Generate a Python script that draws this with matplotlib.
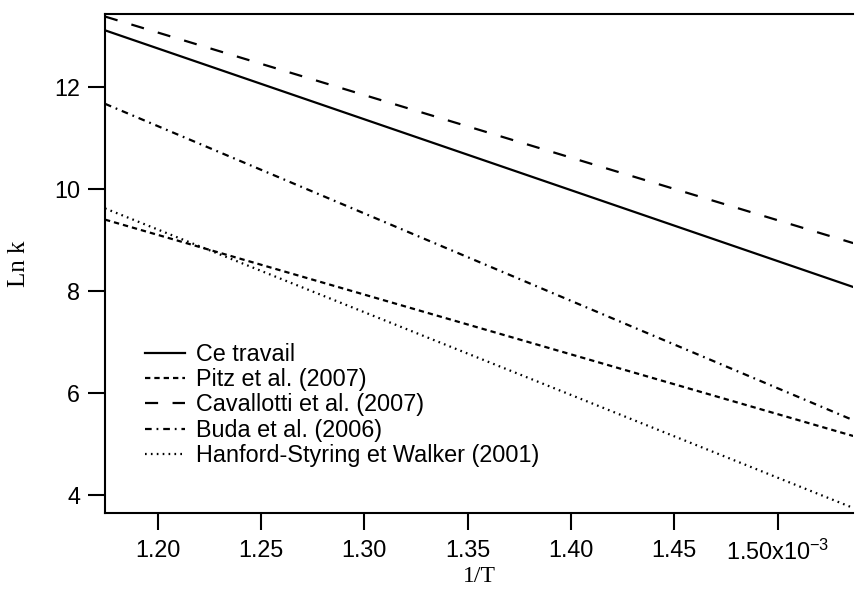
import matplotlib
matplotlib.use("Agg")
import matplotlib.pyplot as plt

plt.rcParams['font.family'] = ['Liberation Sans', 'DejaVu Sans']
plt.rcParams['mathtext.fontset'] = 'custom'
plt.rcParams['mathtext.rm'] = 'Liberation Sans'
plt.rcParams['mathtext.default'] = 'rm'

# 1/T range and Ln k at both ends
inv_t = [1.1745e-3, 1.5365e-3]
ce_travail = [13.11, 8.08]
pitz = [9.40, 5.16]
cavallotti = [13.38, 8.94]
buda = [11.67, 5.47]
hanford = [9.62, 3.75]

labels = ["Ce travail", "Pitz et al. (2007)", "Cavallotti et al. (2007)",
          "Buda et al. (2006)", "Hanford-Styring et Walker (2001)"]

xticks = [1.20e-3, 1.25e-3, 1.30e-3, 1.35e-3, 1.40e-3, 1.45e-3, 1.50e-3]
xticklabels = ["1.20", "1.25", "1.30", "1.35", "1.40", "1.45", "1.50x10$^{-3}$"]
yticks = [4, 6, 8, 10, 12]

fig = plt.figure(figsize=(8.55, 5.9), dpi=100)
ax = fig.add_axes([0.1228, 0.1305, 0.875, 0.8458])

lw = 1.6
ax.plot(inv_t, ce_travail, color="black", lw=lw, ls="-", label=labels[0])
ax.plot(inv_t, pitz, color="black", lw=lw, ls=(0, (2.4, 1.8)), label=labels[1])
ax.plot(inv_t, cavallotti, color="black", lw=lw, ls=(0, (5.9, 6.5)), label=labels[2])
ax.plot(inv_t, buda, color="black", lw=lw, ls=(0, (3.0, 2.2, 0.8, 2.2)), label=labels[3])
ax.plot(inv_t, hanford, color="black", lw=lw, ls=(0, (0.75, 1.9)), label=labels[4])

ax.set_xlim(inv_t[0], inv_t[1])
ax.set_ylim(3.65, 13.43)
ax.set_xticks(xticks)
ax.set_xticklabels(xticklabels)
ax.set_yticks(yticks)

for s in ["left", "top", "bottom"]:
    ax.spines[s].set_linewidth(1.5)
ax.spines["right"].set_visible(False)
ax.tick_params(direction="out", length=12, width=1.5, labelsize=16.8)
ax.tick_params(axis="x", pad=7)
ax.tick_params(axis="y", pad=6)

ax.set_xlabel("1/T", family=["Liberation Serif"], fontsize=17, labelpad=1)
ax.set_ylabel("Ln k", family=["Liberation Serif"], fontsize=18, labelpad=17)

ax.legend(loc="lower left", bbox_to_anchor=(0.053, 0.092), frameon=False,
          fontsize=16.8, handlelength=1.75, handletextpad=0.45, labelspacing=0.1,
          borderaxespad=0, borderpad=0)

fig.savefig("out.png", dpi=100)
